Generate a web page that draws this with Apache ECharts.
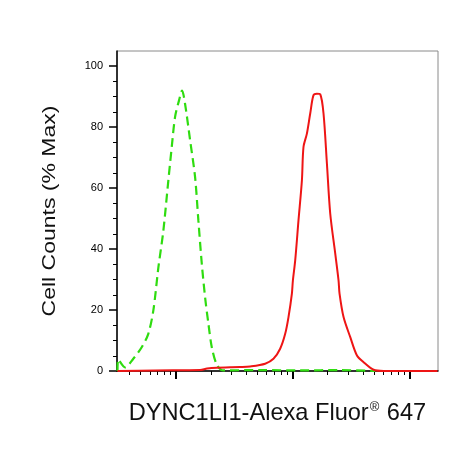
<!DOCTYPE html>
<html>
<head>
<meta charset="utf-8">
<script src="https://cdn.jsdelivr.net/npm/echarts@6/dist/echarts.min.js"></script>
<style>
  html, body { margin: 0; padding: 0; background: #fff; }
  #chart { width: 469px; height: 452px; }
</style>
</head>
<body>
<div id="chart"></div>
<script>
// control (dashed green) histogram
var greenX = [317, 322, 368, 433, 511, 582, 643, 710, 783, 864, 924, 986, 1067, 1132, 1201, 1327, 1464, 1562, 1671, 1783, 1904, 2035, 2246, 2559, 5282, 11630, 25600, 51100];
var greenY = [0, 3.8, 1.2, 4, 7.8, 12.2, 19.9, 34, 46, 62.5, 73.5, 83.3, 88.8, 92, 87.7, 75.7, 63.6, 49.4, 35.2, 24.2, 15.5, 7.8, 2.1, 0.2, 0.3, 0.2, 0.3, 0];

// DYNC1LI1 stained (red) histogram
var redX = [317, 665, 1616, 1855, 2246, 2921, 3558, 4335, 5830, 6865, 7834, 8650, 9234, 9872, 10070, 10540, 11245, 12030, 12410, 13270, 14170, 15120, 16170, 17260, 18420, 19700, 21030, 23210, 24770, 25260, 27340, 31210, 35610, 40570, 49430, 60220, 174000];
var redY = [0, 0.2, 0.3, 0.8, 1.1, 1.2, 1.3, 1.5, 2.4, 4, 7.3, 12.2, 17.7, 25.4, 29.7, 36.3, 49.4, 62.6, 73.5, 77.9, 84.5, 90.5, 91, 90.8, 84.5, 68, 51.6, 38.5, 29.7, 25.4, 17.7, 11.1, 5.1, 2.9, 0.4, 0, 0];

var yMajor = [0, 20, 40, 60, 80, 100];
var yMinor = [5, 10, 15, 25, 30, 35, 45, 50, 55, 65, 70, 75, 85, 90, 95];
var xMajor = [1000, 10000, 100000];
var xMinor = [400, 500, 600, 700, 800, 900,
  2000, 3000, 4000, 5000, 6000, 7000, 8000, 9000,
  20000, 30000, 40000, 50000, 60000, 70000, 80000, 90000];

var FONT = 'Liberation Sans, Arial, sans-serif';

function pairs(xs, ys) {
  return xs.map(function (x, i) { return [x, ys[i]]; });
}

var chart = echarts.init(document.getElementById('chart'), null, { renderer: 'canvas' });

var option = {
  animation: false,
  backgroundColor: '#fff',
  grid: {
    left: 117, right: 31, top: 51, bottom: 81,
    show: true, borderColor: '#8a8a8a', borderWidth: 1
  },
  xAxis: [
    {
      type: 'log', min: 314, max: 176000, position: 'bottom',
      name: '{a|DYNC1LI1-Alexa Fluor}{s|®}{a| 647}',
      nameLocation: 'middle', nameGap: 30,
      nameTextStyle: {
        rich: {
          a: { fontSize: 23.6, fontFamily: FONT, color: '#111' },
          s: { fontSize: 13, fontFamily: FONT, color: '#111', verticalAlign: 'top', padding: [0, 1, 8, 1] }
        }
      },
      axisLine: { show: true, lineStyle: { color: '#000', width: 1.5 } },
      axisTick: { show: true, customValues: xMajor, length: 8, lineStyle: { color: '#000', width: 2 } },
      axisLabel: { show: false },
      splitLine: { show: false }
    },
    {
      type: 'log', min: 314, max: 176000, position: 'bottom',
      axisLine: { show: false },
      axisTick: { show: true, customValues: xMinor, length: 4, lineStyle: { color: '#000', width: 1 } },
      axisLabel: { show: false },
      splitLine: { show: false }
    }
  ],
  yAxis: [
    {
      type: 'value', min: 0, max: 105, position: 'left',
      axisLine: { show: true, lineStyle: { color: '#000', width: 1.5 } },
      axisTick: { show: true, customValues: yMajor, length: 8, lineStyle: { color: '#000', width: 1.5 } },
      axisLabel: { customValues: yMajor, margin: 14, fontSize: 11, fontFamily: FONT, color: '#000' },
      splitLine: { show: false }
    },
    {
      type: 'value', min: 0, max: 105, position: 'left',
      axisLine: { show: false },
      axisTick: { show: true, customValues: yMinor, length: 4, lineStyle: { color: '#000', width: 1 } },
      axisLabel: { show: false },
      splitLine: { show: false }
    }
  ],
  graphic: [
    {
      type: 'text', x: 50, y: 211, rotation: Math.PI / 2, scaleY: 0.8,
      style: {
        text: 'Cell Counts (% Max)', fontSize: 23, fontFamily: FONT, fill: '#111',
        align: 'center', verticalAlign: 'middle'
      }
    }
  ],
  series: [
    {
      type: 'line', name: 'Control', xAxisIndex: 0, yAxisIndex: 0,
      data: pairs(greenX, greenY), showSymbol: false, smooth: 0.3,
      lineStyle: { color: '#2fdc10', width: 2.2, type: [9, 5] }
    },
    {
      type: 'line', name: 'DYNC1LI1', xAxisIndex: 0, yAxisIndex: 0,
      data: pairs(redX, redY), showSymbol: false, smooth: 0.3,
      lineStyle: { color: '#ee1515', width: 2 }
    }
  ]
};

chart.setOption(option);
</script>
</body>
</html>
